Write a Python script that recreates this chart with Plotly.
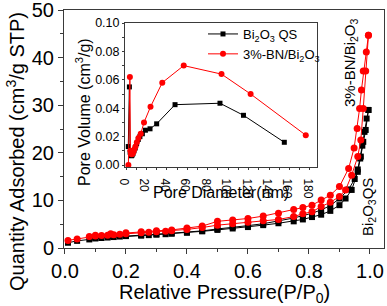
import plotly.graph_objects as go

# ---------------- main isotherm data ----------------
blk_ads_P = [0.01, 0.04, 0.08, 0.10, 0.12, 0.14, 0.16, 0.18, 0.20, 0.25, 0.275, 0.30, 0.33, 0.35,
             0.40, 0.45, 0.50, 0.55, 0.60, 0.65, 0.70, 0.75, 0.78, 0.81, 0.84, 0.87, 0.90, 0.92,
             0.94, 0.96, 0.97, 0.978, 0.986, 0.995]
blk_ads_Q = [1.1, 1.5, 1.8, 2.0, 2.1, 2.2, 2.3, 2.4, 2.5, 2.6, 2.7, 2.8, 2.9, 3.0,
             3.2, 3.5, 3.8, 4.1, 4.4, 4.8, 5.2, 5.6, 6.0, 6.5, 7.0, 7.8, 9.0, 10.4,
             12.2, 16.0, 19.2, 22.3, 24.8, 29.0]
blk_des_P = [0.995, 0.989, 0.982, 0.975, 0.968, 0.96, 0.95, 0.93, 0.90, 0.87, 0.84, 0.81, 0.78,
             0.75, 0.70, 0.65, 0.60, 0.55, 0.50, 0.45, 0.40, 0.35, 0.30, 0.25, 0.20, 0.15, 0.10]
blk_des_Q = [29.0, 27.2, 24.4, 21.5, 18.8, 16.5, 14.5, 12.3, 10.4, 8.9, 8.0, 7.3, 6.8,
             6.3, 5.7, 5.1, 4.7, 4.4, 4.0, 3.6, 3.3, 3.1, 2.9, 2.7, 2.6, 2.4, 2.1]

red_ads_P = [0.01, 0.04, 0.08, 0.10, 0.12, 0.14, 0.16, 0.18, 0.20, 0.25, 0.275, 0.30, 0.33, 0.35,
             0.40, 0.45, 0.50, 0.55, 0.60, 0.65, 0.70, 0.75, 0.78, 0.81, 0.84, 0.87, 0.90, 0.92,
             0.94, 0.96, 0.97, 0.978, 0.986, 0.995]
red_ads_Q = [1.6, 1.9, 2.4, 2.5, 2.6, 2.7, 2.8, 2.9, 3.0, 3.2, 3.3, 3.4, 3.5, 3.6,
             3.9, 4.3, 4.8, 5.1, 5.4, 5.7, 6.0, 6.6, 7.2, 7.6, 8.7, 9.6, 10.8, 12.2,
             15.3, 19.2, 22.7, 29.3, 37.2, 44.7]
red_des_P = [0.995, 0.988, 0.978, 0.972, 0.966, 0.958, 0.948, 0.93, 0.90, 0.87, 0.84, 0.81, 0.78,
             0.75, 0.70, 0.65, 0.60, 0.55, 0.50, 0.45, 0.40, 0.35, 0.30, 0.25, 0.20, 0.15, 0.10]
red_des_Q = [44.7, 41.2, 37.2, 33.2, 29.3, 25.1, 21.0, 16.7, 12.9, 11.1, 10.1, 9.0, 8.5,
             8.1, 7.3, 6.7, 6.2, 5.9, 5.6, 4.6, 4.2, 3.8, 3.6, 3.4, 3.2, 3.0, 2.7]

# ---------------- inset pore size distribution ----------------
blk_D = [2.2, 3.3, 4.0, 4.6, 5.3, 6.0, 6.8, 7.8, 9.0, 10.4, 12.0, 13.6, 16.0, 19.0, 23.5, 30.0,
         48.0, 92.0, 115.0, 155.0]
blk_V = [0.013, 0.055, 0.009, 0.007, 0.0065, 0.007, 0.008, 0.010, 0.012, 0.015, 0.018, 0.020,
         0.022, 0.0245, 0.0255, 0.029, 0.0425, 0.0435, 0.035, 0.016]
red_D = [2.3, 3.8, 4.3, 5.0, 5.6, 6.3, 7.1, 8.1, 9.3, 10.6, 12.2, 14.4, 17.6, 24.0, 35.5, 56.5,
         93.5, 122.0, 176.0]
red_V = [0.000, 0.062, 0.010, 0.008, 0.0075, 0.008, 0.009, 0.011, 0.013, 0.016, 0.019, 0.022,
         0.030, 0.041, 0.058, 0.070, 0.064, 0.050, 0.021]

labels = ["Bi<sub>2</sub>O<sub>3</sub> QS", "3%-BN/Bi<sub>2</sub>O<sub>3</sub>"]
BLK = "#000000"
RED = "#ff0000"
FONT = "Liberation Sans, Arial, sans-serif"

W, H = 387, 306
PL, PR, PT, PB = 64, 384, 10, 248   # main plot area in page pixels


def px(x):
    return (x - PL) / (PR - PL)


def py(y):
    return (PB - y) / (PB - PT)


fig = go.Figure()

for P, Q in [(blk_ads_P, blk_ads_Q), (blk_des_P, blk_des_Q)]:
    fig.add_trace(go.Scatter(x=P, y=Q, mode="lines+markers", showlegend=False,
                             line=dict(color=BLK, width=1),
                             marker=dict(symbol="square", size=6, color=BLK),
                             xaxis="x", yaxis="y"))
for P, Q in [(red_ads_P, red_ads_Q), (red_des_P, red_des_Q)]:
    fig.add_trace(go.Scatter(x=P, y=Q, mode="lines+markers", showlegend=False,
                             line=dict(color=RED, width=1),
                             marker=dict(symbol="circle", size=7, color=RED),
                             xaxis="x", yaxis="y"))

fig.add_trace(go.Scatter(x=blk_D, y=blk_V, mode="lines+markers", name=labels[0],
                         line=dict(color=BLK, width=1),
                         marker=dict(symbol="square", size=5, color=BLK),
                         xaxis="x2", yaxis="y2"))
fig.add_trace(go.Scatter(x=red_D, y=red_V, mode="lines+markers", name=labels[1],
                         line=dict(color=RED, width=1),
                         marker=dict(symbol="circle", size=6, color=RED),
                         xaxis="x2", yaxis="y2"))

axcol = "#3a3a3a"
fig.update_layout(
    width=W, height=H,
    margin=dict(l=PL, r=W - PR, t=PT, b=H - PB, autoexpand=False),
    paper_bgcolor="white", plot_bgcolor="white",
    font=dict(family=FONT, color="black"),
    xaxis=dict(domain=[0, 1], range=[-0.003, 1.046], dtick=0.2, tick0=0, tickformat=".1f",
               showgrid=False, zeroline=False, showline=True, mirror=True,
               linecolor=axcol, linewidth=1, ticks="outside", ticklen=5, tickcolor=axcol,
               minor=dict(dtick=0.1, ticks="outside", ticklen=3, tickcolor=axcol),
               tickfont=dict(size=20), ticklabeloverflow="allow"),
    yaxis=dict(domain=[0, 1], range=[0, 50], dtick=10, tick0=0,
               showgrid=False, zeroline=False, showline=True, mirror=True,
               linecolor=axcol, linewidth=1, ticks="outside", ticklen=5, tickcolor=axcol,
               minor=dict(dtick=5, ticks="outside", ticklen=3, tickcolor=axcol),
               tickfont=dict(size=20), ticklabeloverflow="allow"),
    xaxis2=dict(domain=[px(125), px(317)], anchor="y2", range=[-1, 187], dtick=20, tick0=0,
                showgrid=False, zeroline=False, showline=True, mirror=True,
                linecolor=axcol, linewidth=1, ticks="outside", ticklen=2, tickcolor=axcol,
                minor=dict(dtick=10, ticks="outside", ticklen=2, tickcolor=axcol),
                tickfont=dict(size=12), ticklabeloverflow="allow"),
    yaxis2=dict(domain=[py(167), py(23)], anchor="x2", range=[-0.0014, 0.1], dtick=0.02, tick0=0,
                tickformat=".2f",
                showgrid=False, zeroline=False, showline=True, mirror=True,
                linecolor=axcol, linewidth=1, ticks="outside", ticklen=2, tickcolor=axcol,
                minor=dict(dtick=0.01, ticks="outside", ticklen=2, tickcolor=axcol),
                tickfont=dict(size=12.5), ticklabeloverflow="allow"),
    legend=dict(x=px(203), y=py(19), xanchor="left", yanchor="top", bgcolor="rgba(0,0,0,0)",
                font=dict(size=13), tracegroupgap=0, itemwidth=30),
    annotations=[
        dict(text="Relative Pressure(P/P<sub>0</sub>)", xref="paper", yref="paper",
             x=px(224), y=py(293), showarrow=False,
             font=dict(size=20), xanchor="center", yanchor="middle"),
        dict(text="Quantity Adsorbed (cm<sup>3</sup>/g STP)", xref="paper", yref="paper",
             x=px(15), y=py(152), showarrow=False, textangle=-90,
             font=dict(size=20), xanchor="center", yanchor="middle"),
        dict(text="Pore Diameter(nm)", xref="paper", yref="paper",
             x=px(221), y=py(193), showarrow=False,
             font=dict(size=16), xanchor="center", yanchor="middle"),
        dict(text="Pore Volume (cm<sup>3</sup>/g)", xref="paper", yref="paper",
             x=px(83), y=py(112), showarrow=False, textangle=-90,
             font=dict(size=16), xanchor="center", yanchor="middle"),
        dict(text="3%-BN/Bi<sub>2</sub>O<sub>3</sub>", xref="paper", yref="paper",
             x=px(350), y=py(63), showarrow=False, textangle=-90,
             font=dict(size=15), xanchor="center", yanchor="middle"),
        dict(text="Bi<sub>2</sub>O<sub>3</sub>QS", xref="paper", yref="paper",
             x=px(368), y=py(207), showarrow=False, textangle=-90,
             font=dict(size=15), xanchor="center", yanchor="middle"),
    ],
)

# remove the default 8px body margin so the figure starts at the page corner
fig.write_html("out.html", config={"displayModeBar": False},
               post_script="document.body.style.margin='0';document.body.style.overflow='hidden';")
